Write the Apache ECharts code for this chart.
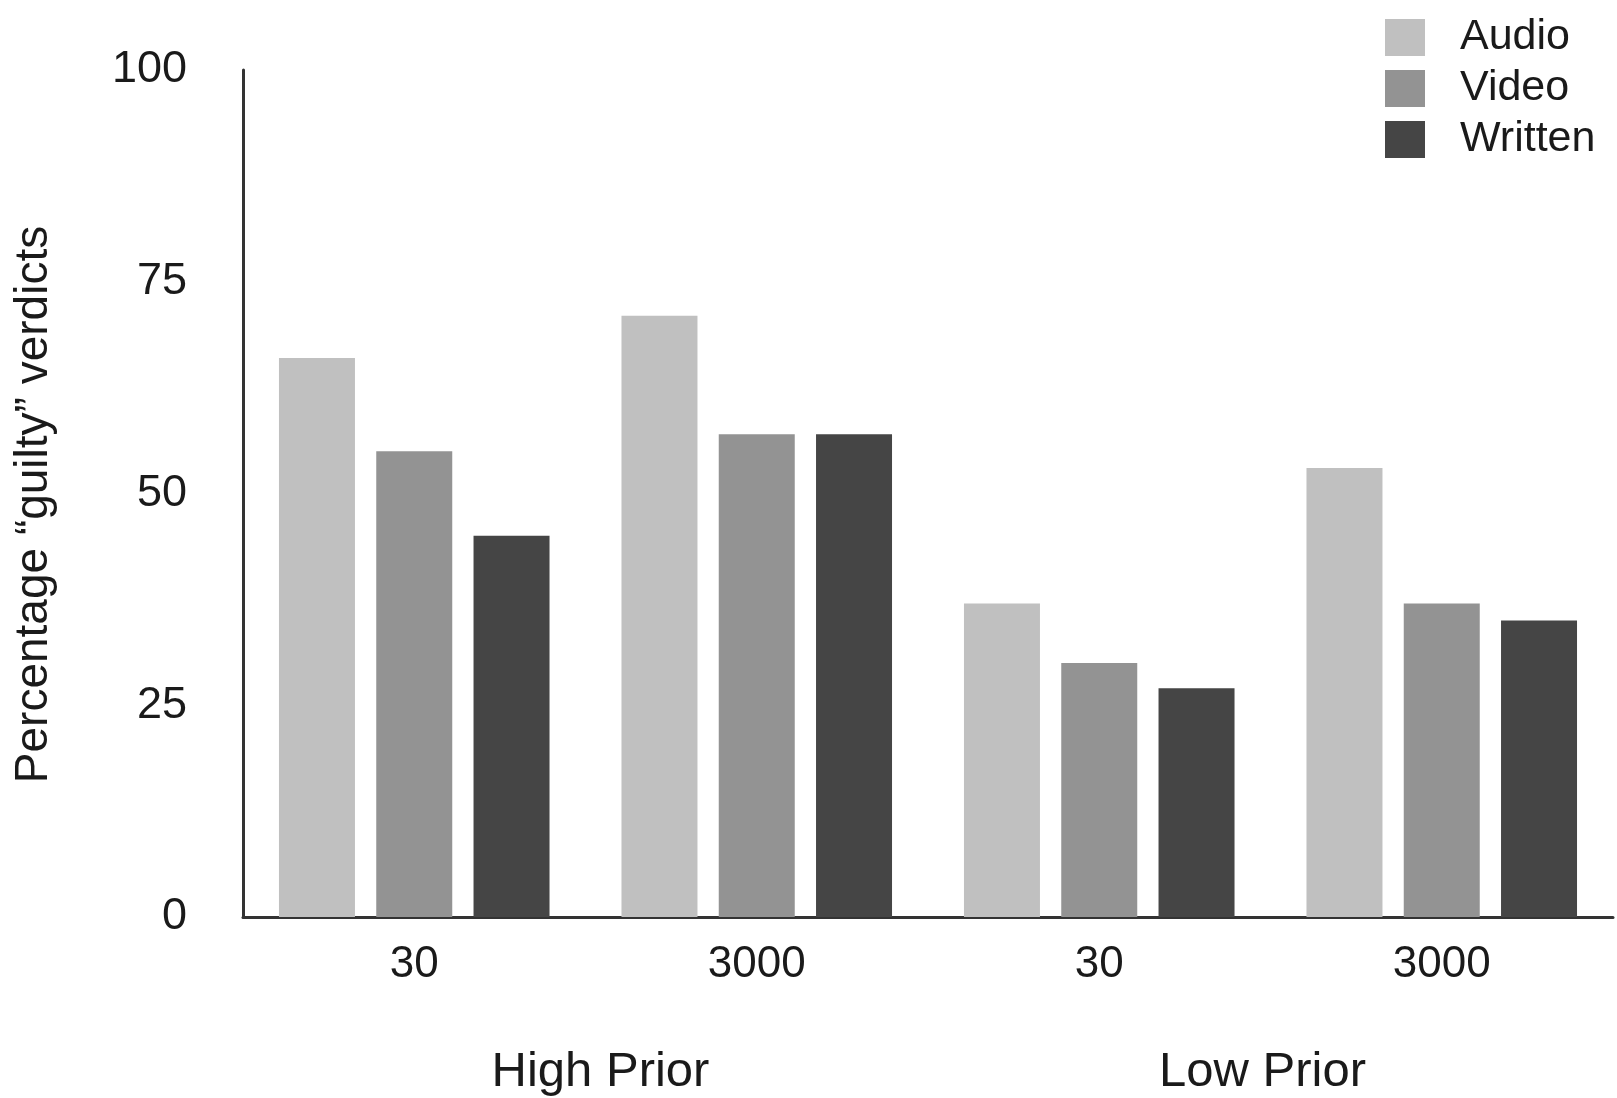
<!DOCTYPE html>
<html>
<head>
<meta charset="utf-8">
<script src="https://cdn.jsdelivr.net/npm/echarts@6/dist/echarts.min.js"></script>
<style>
html,body{margin:0;padding:0;background:#fff;}
#chart{width:1617px;height:1098px;}
</style>
</head>
<body>
<div id="chart"></div>
<script>
const categories = ['30', '3000', '30', '3000'];
const groups = ['High Prior', 'Low Prior'];
const seriesNames = ['Audio', 'Video', 'Written'];
const audio = [66, 71, 37, 53];
const video = [55, 57, 30, 37];
const written = [45, 57, 27, 35];
const yTicks = { min: 0, max: 100, interval: 25 };

const colors = ['#c0c0c0', '#939393', '#454545'];
const font = '"Liberation Sans", Arial, Helvetica, sans-serif';
const chart = echarts.init(document.getElementById('chart'));
chart.setOption({
  animation: false,
  backgroundColor: '#ffffff',
  textStyle: { fontFamily: font },
  legend: {
    orient: 'vertical',
    left: 1380,
    top: 11,
    itemWidth: 40,
    itemHeight: 37,
    itemGap: 8,
    icon: 'rect',
    data: seriesNames,
    textStyle: { fontFamily: font, fontSize: 43, color: '#1a1a1a', padding: [0, 0, 0, 30], lineHeight: 40 }
  },
  grid: { left: 243, right: 4, top: 70, bottom: 181, containLabel: false },
  xAxis: [
    {
      type: 'category',
      data: categories,
      axisLine: { show: true, lineStyle: { color: '#333', width: 3 } },
      axisTick: { show: false },
      axisLabel: { fontSize: 44, color: '#1a1a1a', margin: 26, fontFamily: font }
    },
    {
      type: 'category',
      data: groups,
      position: 'bottom',
      axisLine: { show: false },
      axisTick: { show: false },
      axisLabel: {
        margin: 131,
        formatter: function (v, i) { return i === 0 ? '{a|' + v + '}' : '{b|' + v + '}'; },
        rich: {
          a: { fontSize: 49, color: '#1a1a1a', fontFamily: font, padding: [0, 0, 0, 30] },
          b: { fontSize: 49, color: '#1a1a1a', fontFamily: font, padding: [0, 16, 0, 0] }
        }
      }
    }
  ],
  yAxis: {
    type: 'value',
    min: yTicks.min,
    max: yTicks.max,
    interval: yTicks.interval,
    name: 'Percentage \u201cguilty\u201d verdicts',
    nameLocation: 'middle',
    nameGap: 186,
    nameTextStyle: { fontSize: 46, color: '#1a1a1a', fontFamily: font, padding: [0, 22, 0, 0] },
    axisLine: { show: true, lineStyle: { color: '#333', width: 3 } },
    axisTick: { show: false },
    splitLine: { show: false },
    axisLabel: { fontSize: 45, color: '#1a1a1a', margin: 56, fontFamily: font }
  },
  series: [
    { name: 'Audio', type: 'bar', data: audio, barWidth: 76, barGap: '28%', itemStyle: { color: colors[0] } },
    { name: 'Video', type: 'bar', data: video, barWidth: 76, barGap: '28%', itemStyle: { color: colors[1] } },
    { name: 'Written', type: 'bar', data: written, barWidth: 76, barGap: '28%', itemStyle: { color: colors[2] } }
  ]
});
</script>
</body>
</html>
